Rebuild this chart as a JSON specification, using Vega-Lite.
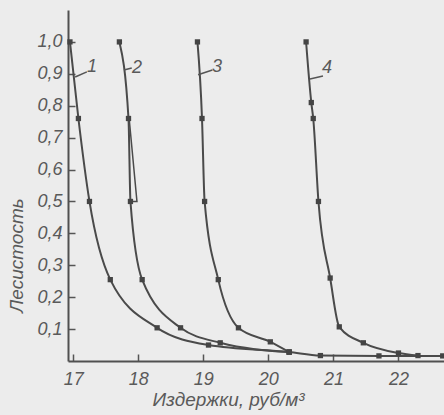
{
  "$schema": "https://vega.github.io/schema/vega-lite/v6.json",
  "width": 376,
  "height": 351,
  "autosize": {"type": "none"},
  "padding": {"left": 68, "top": 10, "right": 0, "bottom": 54},
  "background": "#ececec",
  "config": {
    "view": {"stroke": null},
    "font": "Liberation Sans",
    "axis": {"grid": false, "domainColor": "#505050", "domainWidth": 2, "labelFont": "Liberation Sans", "labelFontStyle": "italic", "labelFontSize": 18, "labelColor": "#5a5a5a", "titleFont": "Liberation Sans", "titleFontStyle": "italic", "titleFontWeight": "normal", "titleFontSize": 19, "titleColor": "#5a5a5a"}
  },
  "datasets": {
    "curves": [
      {"curve": "1", "seq": 1, "cost": 16.95, "forest": 1.0},
      {"curve": "1", "seq": 2, "cost": 17.08, "forest": 0.76},
      {"curve": "1", "seq": 3, "cost": 17.25, "forest": 0.5},
      {"curve": "1", "seq": 4, "cost": 17.57, "forest": 0.255},
      {"curve": "1", "seq": 5, "cost": 18.29, "forest": 0.104},
      {"curve": "1", "seq": 6, "cost": 19.08, "forest": 0.05},
      {"curve": "1", "seq": 7, "cost": 20.32, "forest": 0.028},
      {"curve": "1", "seq": 8, "cost": 20.8, "forest": 0.017},
      {"curve": "1", "seq": 9, "cost": 21.7, "forest": 0.016},
      {"curve": "1", "seq": 10, "cost": 22.68, "forest": 0.016},
      {"curve": "2", "seq": 1, "cost": 17.71, "forest": 1.0},
      {"curve": "2", "seq": 2, "cost": 17.85, "forest": 0.76},
      {"curve": "2", "seq": 3, "cost": 17.88, "forest": 0.5},
      {"curve": "2", "seq": 4, "cost": 18.06, "forest": 0.255},
      {"curve": "2", "seq": 5, "cost": 18.65, "forest": 0.104},
      {"curve": "2", "seq": 6, "cost": 19.26, "forest": 0.057},
      {"curve": "2", "seq": 7, "cost": 20.32, "forest": 0.028},
      {"curve": "3", "seq": 1, "cost": 18.91, "forest": 1.0},
      {"curve": "3", "seq": 2, "cost": 18.98, "forest": 0.76},
      {"curve": "3", "seq": 3, "cost": 19.02, "forest": 0.5},
      {"curve": "3", "seq": 4, "cost": 19.23, "forest": 0.255},
      {"curve": "3", "seq": 5, "cost": 19.54, "forest": 0.104},
      {"curve": "3", "seq": 6, "cost": 20.03, "forest": 0.06},
      {"curve": "3", "seq": 7, "cost": 20.32, "forest": 0.028},
      {"curve": "4", "seq": 1, "cost": 20.58, "forest": 1.0},
      {"curve": "4", "seq": 2, "cost": 20.66, "forest": 0.81},
      {"curve": "4", "seq": 3, "cost": 20.69, "forest": 0.76},
      {"curve": "4", "seq": 4, "cost": 20.77, "forest": 0.5},
      {"curve": "4", "seq": 5, "cost": 20.95, "forest": 0.26},
      {"curve": "4", "seq": 6, "cost": 21.09, "forest": 0.107},
      {"curve": "4", "seq": 7, "cost": 21.46, "forest": 0.057},
      {"curve": "4", "seq": 8, "cost": 22.0, "forest": 0.025},
      {"curve": "4", "seq": 9, "cost": 22.3, "forest": 0.017}
    ],
    "spike": [
      {"seq": 1, "cost": 17.86, "forest": 0.76},
      {"seq": 2, "cost": 17.98, "forest": 0.5},
      {"seq": 3, "cost": 17.88, "forest": 0.5}
    ],
    "labels": [
      {"curve": "1", "cost": 17.29, "forest": 0.92},
      {"curve": "2", "cost": 17.98, "forest": 0.918},
      {"curve": "3", "cost": 19.21, "forest": 0.92},
      {"curve": "4", "cost": 20.9, "forest": 0.918}
    ],
    "leaders": [
      {"curve": "1", "cost": 17.03, "forest": 0.89, "cost2": 17.21, "forest2": 0.906},
      {"curve": "2", "cost": 17.78, "forest": 0.912, "cost2": 17.9, "forest2": 0.918},
      {"curve": "3", "cost": 18.92, "forest": 0.897, "cost2": 19.14, "forest2": 0.912},
      {"curve": "4", "cost": 20.64, "forest": 0.884, "cost2": 20.84, "forest2": 0.893}
    ]
  },
  "encoding": {
    "x": {"field": "cost", "type": "quantitative", "scale": {"domain": [16.92, 22.7], "nice": false, "zero": false},
          "axis": {"values": [17, 18, 19, 20, 21, 22], "format": "d", "ticks": true, "tickSize": -7, "tickColor": "#555555", "tickWidth": 1.5, "labelOverlap": false, "labelPadding": 16, "title": "Издержки, руб/м³", "titleAlign": "right", "titleAnchor": "start", "titleX": 236, "titleY": 44, "titleBaseline": "alphabetic"}},
    "y": {"field": "forest", "type": "quantitative", "scale": {"domain": [0, 1.1], "nice": false},
          "axis": {"values": [0.1, 0.2, 0.3, 0.4, 0.5, 0.6, 0.7, 0.8, 0.9, 1.0], "labelExpr": "replace(format(datum.value, '.1f'), '.', ',')", "ticks": true, "tickSize": -7, "tickColor": "#555555", "tickWidth": 1.5, "labelOverlap": false, "labelPadding": 13, "title": "Лесистость", "titleX": -52, "titleY": 245, "titleAngle": -90, "titleAlign": "center", "titleBaseline": "middle"}}
  },
  "layer": [
    {
      "data": {"name": "curves"},
      "mark": {"type": "line", "color": "#4a4a4a", "strokeWidth": 2, "interpolate": "monotone"},
      "encoding": {
        "detail": {"field": "curve"},
        "order": {"field": "seq"}
      }
    },
    {
      "data": {"name": "spike"},
      "mark": {"type": "line", "color": "#4a4a4a", "strokeWidth": 1.5},
      "encoding": {
        "order": {"field": "seq"}
      }
    },
    {
      "data": {"name": "curves"},
      "mark": {"type": "point", "filled": true, "shape": "square", "color": "#444444", "size": 28, "opacity": 1},
      "encoding": {}
    },
    {
      "data": {"name": "leaders"},
      "mark": {"type": "rule", "color": "#555555", "strokeWidth": 1.5},
      "encoding": {
        "x2": {"field": "cost2"},
        "y2": {"field": "forest2"}
      }
    },
    {
      "data": {"name": "labels"},
      "mark": {"type": "text", "font": "Liberation Sans", "fontStyle": "italic", "fontSize": 18, "color": "#5a5a5a", "align": "center", "baseline": "middle"},
      "encoding": {
        "text": {"field": "curve"}
      }
    }
  ]
}
